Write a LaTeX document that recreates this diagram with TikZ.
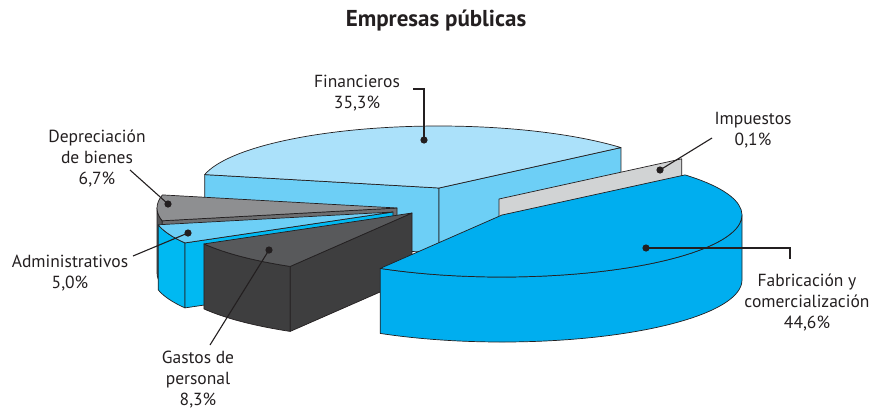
\documentclass[tikz,border=0pt]{standalone}
\usepackage{fontspec}
\setmainfont{PT Sans}
\usetikzlibrary{calc}
\definecolor{finTop}{HTML}{ABE1FA}
\definecolor{finSide}{HTML}{6DCFF6}
\definecolor{impCol}{HTML}{D1D3D4}
\definecolor{depTop}{HTML}{8E8F91}
\definecolor{depFront}{HTML}{6D6E70}
\definecolor{depOuter}{HTML}{555557}
\definecolor{admTop}{HTML}{6DCFF6}
\definecolor{admSide}{HTML}{00B9F2}
\definecolor{gasTop}{HTML}{58595B}
\definecolor{gasSide}{HTML}{3E3E3F}
\definecolor{fabCol}{HTML}{00AEEF}
\definecolor{ink}{HTML}{231F20}
\tikzset{
  facet/.style={draw=ink, line width=0.7pt, line join=round},
  lab/.style={align=center, inner sep=0pt, text=ink, font=\fontsize{17.5}{21}\selectfont},
  leader/.style={draw=ink, line width=1.1pt},
  dotmark/.style={fill=ink, draw=none}
}
\newcommand{\slicetop}[4]{%
  \filldraw[facet, fill=#4] (#1) -- ($(#1)+(#2:240 and 62)$) arc[start angle=#2, end angle=#3, x radius=240, y radius=62] -- cycle;}
\newcommand{\sliceouter}[4]{%
  \filldraw[facet, fill=#4] ($(#1)+(#2:240 and 62)$) arc[start angle=#2, end angle=#3, x radius=240, y radius=62] -- ++(0,-65) arc[start angle=#3, end angle=#2, x radius=240, y radius=62] -- cycle;}
\newcommand{\sliceradial}[3]{%
  \filldraw[facet, fill=#3] (#1) -- ($(#1)+(#2:240 and 62)$) -- ++(0,-65) -- ($(#1)+(0,-65)$) -- cycle;}
\begin{document}
\begin{tikzpicture}[x=1pt,y=1pt]
\useasboundingbox (0,0) rectangle (873,-413);
% slice centres
\coordinate (cFin) at (439,-188);
\coordinate (cImp) at (499,-199);
\coordinate (cDep) at (397,-208);
\coordinate (cAdm) at (393,-212);
\coordinate (cGas) at (412,-213);
\coordinate (cFab) at (502,-215);
% Financieros
\sliceradial{cFin}{167.5}{finSide}
\sliceradial{cFin}{40.7}{finSide}
\slicetop{cFin}{40.7}{167.5}{finTop}
% Impuestos
\sliceradial{cImp}{40.4}{impCol}
% Depreciacion
\sliceouter{cDep}{180}{191.9}{depOuter}
\sliceradial{cDep}{191.9}{depFront}
\slicetop{cDep}{167.8}{191.9}{depTop}
% Administrativos
\sliceouter{cAdm}{191.9}{209.9}{admSide}
\sliceradial{cAdm}{209.9}{admSide}
\slicetop{cAdm}{191.9}{209.9}{admTop}
% Gastos de personal
\sliceouter{cGas}{209.9}{239.5}{gasSide}
\sliceradial{cGas}{239.5}{gasSide}
\slicetop{cGas}{209.9}{239.5}{gasTop}
% Fabricacion
\sliceouter{cFab}{239.5}{360}{fabCol}
\slicetop{cFab}{-120.5}{40.3}{fabCol}

% title
\node[inner sep=0pt, text=ink, font=\fontsize{23}{26}\selectfont\bfseries] (title) at (436,-21) {Empresas públicas};

% labels
\node[lab] (tFin) at (357,-93) {Financieros\\35,3\%};
\node[lab] (tImp) at (753,-130) {Impuestos\\0,1\%};
\node[lab] (tFab) at (807,-302) {Fabricación y\\comercialización\\44,6\%};
\node[lab] (tDep) at (97,-158) {Depreciación\\de bienes\\6,7\%};
\node[lab] (tAdm) at (70,-273) {Administrativos\\5,0\%};
\node[lab] (tGas) at (198,-380) {Gastos de\\personal\\8,3\%};

% leader points
\coordinate (dFin) at (424,-140);
\coordinate (kFin) at (424,-89);
\coordinate (eFin) at (413,-89);
\coordinate (dImp) at (660,-170);
\coordinate (eImp) at (712,-138);
\coordinate (dFab) at (646,-248);
\coordinate (kFab) at (790,-248);
\coordinate (eFab) at (790,-259);
\coordinate (dDep) at (168,-204);
\coordinate (eDep) at (130,-170);
\coordinate (dAdm) at (188,-233);
\coordinate (eAdm) at (133,-256);
\coordinate (dGas) at (269,-250);
\coordinate (eGas) at (210,-345);

\draw[leader] (dFin) -- (kFin) -- (eFin);
\draw[leader] (dImp) -- (eImp);
\draw[leader] (dFab) -- (kFab) -- (eFab);
\draw[leader] (dDep) -- (eDep);
\draw[leader] (dAdm) -- (eAdm);
\draw[leader] (dGas) -- (eGas);
\foreach \d in {dFin,dImp,dFab,dDep,dAdm,dGas} \fill[dotmark] (\d) circle (3.6);
\end{tikzpicture}
\end{document}
